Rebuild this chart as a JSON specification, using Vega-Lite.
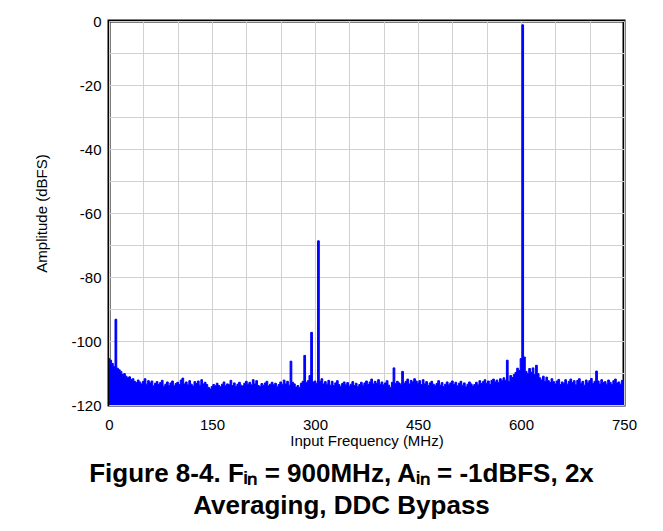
{
"$schema": "https://vega.github.io/schema/vega-lite/v6.json",
"width": 515, "height": 384,
"autosize": {"type": "none"},
"padding": {"left": 109, "top": 21, "right": 39, "bottom": 126},
"background": "white",
"config": {"view": {"stroke": "black", "strokeWidth": 3}, "font": "Liberation Sans"},
"title": {"text": ["Figure 8-4. Fᵢₙ = 900MHz, Aᵢₙ = -1dBFS, 2x", "Averaging, DDC Bypass"], "orient": "bottom", "anchor": "middle", "dx": -25, "fontSize": 26, "fontWeight": "bold", "font": "Liberation Sans", "color": "black", "lineHeight": 32, "offset": 13},
"data": {"values": [
{"f":0,"a":-105.5},{"f":2.5,"a":-106},{"f":5,"a":-107},{"f":7.5,"a":-108},{"f":10,"a":-93.2},{"f":12.5,"a":-108.5},{"f":15,"a":-109},{"f":17.5,"a":-109.5},{"f":20,"a":-110.5},{"f":22.5,"a":-110.2},
{"f":25,"a":-111},{"f":27.5,"a":-111.5},{"f":30,"a":-111.2},{"f":32.5,"a":-112},{"f":35,"a":-111.8},{"f":37.5,"a":-112.6},{"f":40,"a":-113},{"f":42.5,"a":-112.2},{"f":45,"a":-112.8},{"f":47.5,"a":-113.4},
{"f":50,"a":-112.6},{"f":52.5,"a":-111.8},{"f":55,"a":-113.5},{"f":57.5,"a":-112.4},{"f":60,"a":-113.1},{"f":62.5,"a":-112.5},{"f":65,"a":-114},{"f":67.5,"a":-113.2},{"f":70,"a":-112.7},{"f":72.5,"a":-113.6},
{"f":75,"a":-113},{"f":77.5,"a":-112.3},{"f":80,"a":-114.2},{"f":82.5,"a":-113.5},{"f":85,"a":-112.8},{"f":87.5,"a":-113.9},{"f":90,"a":-113.1},{"f":92.5,"a":-112.5},{"f":95,"a":-114},{"f":97.5,"a":-113.3},
{"f":100,"a":-112.9},{"f":102.5,"a":-113.6},{"f":105,"a":-112.2},{"f":107.5,"a":-111.6},{"f":110,"a":-113.4},{"f":112.5,"a":-112.8},{"f":115,"a":-113.7},{"f":117.5,"a":-112.4},{"f":120,"a":-113.5},{"f":122.5,"a":-114.1},
{"f":125,"a":-112.7},{"f":127.5,"a":-113.3},{"f":130,"a":-112.5},{"f":132.5,"a":-113.8},{"f":135,"a":-112.1},{"f":137.5,"a":-113.4},{"f":140,"a":-112.9},{"f":142.5,"a":-113.6},{"f":145,"a":-114.5},{"f":147.5,"a":-115},
{"f":150,"a":-114.2},{"f":152.5,"a":-113.6},{"f":155,"a":-114},{"f":157.5,"a":-113.2},{"f":160,"a":-113.9},{"f":162.5,"a":-114.3},{"f":165,"a":-113.5},{"f":167.5,"a":-112.8},{"f":170,"a":-114},{"f":172.5,"a":-113.4},
{"f":175,"a":-113.7},{"f":177.5,"a":-112.3},{"f":180,"a":-113.9},{"f":182.5,"a":-113.1},{"f":185,"a":-114.2},{"f":187.5,"a":-113.5},{"f":190,"a":-112.9},{"f":192.5,"a":-113.8},{"f":195,"a":-114.1},{"f":197.5,"a":-113.2},
{"f":200,"a":-112.6},{"f":202.5,"a":-113.5},{"f":205,"a":-112.9},{"f":207.5,"a":-113.7},{"f":210,"a":-112.1},{"f":212.5,"a":-113.4},{"f":215,"a":-112.4},{"f":217.5,"a":-113.9},{"f":220,"a":-114.2},{"f":222.5,"a":-113.3},
{"f":225,"a":-113.8},{"f":227.5,"a":-113.1},{"f":230,"a":-112.6},{"f":232.5,"a":-114},{"f":235,"a":-113.5},{"f":237.5,"a":-112.9},{"f":240,"a":-113.7},{"f":242.5,"a":-113.2},{"f":245,"a":-114.3},{"f":247.5,"a":-113.6},
{"f":250,"a":-112.8},{"f":252.5,"a":-113.5},{"f":255,"a":-112.2},{"f":257.5,"a":-113.4},{"f":260,"a":-112.6},{"f":262.5,"a":-113.8},{"f":265,"a":-106.3},{"f":267.5,"a":-112.9},{"f":270,"a":-113.4},{"f":272.5,"a":-114.4},
{"f":275,"a":-113.9},{"f":277.5,"a":-114.5},{"f":280,"a":-113.2},{"f":282.5,"a":-112.6},{"f":285,"a":-104.5},{"f":287.5,"a":-113},{"f":290,"a":-112.4},{"f":292.5,"a":-110.8},{"f":295,"a":-97.3},{"f":297.5,"a":-112.8},
{"f":300,"a":-112.5},{"f":302.5,"a":-113.2},{"f":305,"a":-68.7},{"f":307.5,"a":-112.6},{"f":310,"a":-111.8},{"f":312.5,"a":-113.4},{"f":315,"a":-112.7},{"f":317.5,"a":-113.5},{"f":320,"a":-112.3},{"f":322.5,"a":-113.8},
{"f":325,"a":-112.6},{"f":327.5,"a":-113.9},{"f":330,"a":-113.1},{"f":332.5,"a":-112.4},{"f":335,"a":-113.6},{"f":337.5,"a":-114.2},{"f":340,"a":-113.3},{"f":342.5,"a":-112.8},{"f":345,"a":-113.7},{"f":347.5,"a":-113},
{"f":350,"a":-114.1},{"f":352.5,"a":-113.5},{"f":355,"a":-112.7},{"f":357.5,"a":-113.9},{"f":360,"a":-113.2},{"f":362.5,"a":-114.3},{"f":365,"a":-113.6},{"f":367.5,"a":-112.9},{"f":370,"a":-113.8},{"f":372.5,"a":-113.1},
{"f":375,"a":-112.5},{"f":377.5,"a":-113.6},{"f":380,"a":-112.8},{"f":382.5,"a":-111.9},{"f":385,"a":-113.4},{"f":387.5,"a":-112.6},{"f":390,"a":-113.2},{"f":392.5,"a":-112.1},{"f":395,"a":-113.5},{"f":397.5,"a":-112.8},
{"f":400,"a":-113.7},{"f":402.5,"a":-113.1},{"f":405,"a":-112.4},{"f":407.5,"a":-113.8},{"f":410,"a":-114.5},{"f":412.5,"a":-112.9},{"f":415,"a":-108.4},{"f":417.5,"a":-113.3},{"f":420,"a":-112.6},{"f":422.5,"a":-113.1},
{"f":425,"a":-113.5},{"f":427.5,"a":-109.5},{"f":430,"a":-113.2},{"f":432.5,"a":-112.6},{"f":435,"a":-111.9},{"f":437.5,"a":-113.4},{"f":440,"a":-112.3},{"f":442.5,"a":-112.8},{"f":445,"a":-111.8},{"f":447.5,"a":-112.5},
{"f":450,"a":-113.2},{"f":452.5,"a":-112.4},{"f":455,"a":-113.6},{"f":457.5,"a":-112.1},{"f":460,"a":-113.4},{"f":462.5,"a":-112.7},{"f":465,"a":-113.9},{"f":467.5,"a":-113.1},{"f":470,"a":-112.6},{"f":472.5,"a":-113.5},
{"f":475,"a":-114},{"f":477.5,"a":-113.3},{"f":480,"a":-112.4},{"f":482.5,"a":-113.8},{"f":485,"a":-113},{"f":487.5,"a":-114.2},{"f":490,"a":-113.5},{"f":492.5,"a":-112.8},{"f":495,"a":-113.7},{"f":497.5,"a":-113.1},
{"f":500,"a":-112.5},{"f":502.5,"a":-113.6},{"f":505,"a":-112.9},{"f":507.5,"a":-114},{"f":510,"a":-113.2},{"f":512.5,"a":-112.6},{"f":515,"a":-113.8},{"f":517.5,"a":-113.1},{"f":520,"a":-114.3},{"f":522.5,"a":-113.5},
{"f":525,"a":-112.8},{"f":527.5,"a":-113.4},{"f":530,"a":-114.1},{"f":532.5,"a":-113.6},{"f":535,"a":-112.9},{"f":537.5,"a":-113.7},{"f":540,"a":-112.4},{"f":542.5,"a":-113.3},{"f":545,"a":-112.7},{"f":547.5,"a":-112.1},
{"f":550,"a":-113.2},{"f":552.5,"a":-112.5},{"f":555,"a":-113.6},{"f":557.5,"a":-112.3},{"f":560,"a":-111.9},{"f":562.5,"a":-112.8},{"f":565,"a":-112.2},{"f":567.5,"a":-113},{"f":570,"a":-111.8},{"f":572.5,"a":-112.4},
{"f":575,"a":-111.5},{"f":577.5,"a":-112.3},{"f":580,"a":-106},{"f":582.5,"a":-112.6},{"f":585,"a":-110.8},{"f":587.5,"a":-111.4},{"f":590,"a":-110.5},{"f":592.5,"a":-109.8},{"f":595,"a":-108.5},{"f":597.5,"a":-109.2},
{"f":600,"a":-105.5},{"f":602.5,"a":-1.2},{"f":605,"a":-105},{"f":607.5,"a":-109.5},{"f":610,"a":-110.2},{"f":612.5,"a":-108.6},{"f":615,"a":-109.8},{"f":617.5,"a":-108.4},{"f":620,"a":-110.5},{"f":622.5,"a":-107.6},
{"f":625,"a":-110.2},{"f":627.5,"a":-111.5},{"f":630,"a":-112.2},{"f":632.5,"a":-111},{"f":635,"a":-112.6},{"f":637.5,"a":-111.3},{"f":640,"a":-112.4},{"f":642.5,"a":-113},{"f":645,"a":-111.8},{"f":647.5,"a":-112.7},
{"f":650,"a":-113.4},{"f":652.5,"a":-112.5},{"f":655,"a":-112},{"f":657.5,"a":-113.6},{"f":660,"a":-112.8},{"f":662.5,"a":-113.2},{"f":665,"a":-112.1},{"f":667.5,"a":-113.5},{"f":670,"a":-112.6},{"f":672.5,"a":-111.9},
{"f":675,"a":-113},{"f":677.5,"a":-112.4},{"f":680,"a":-113.7},{"f":682.5,"a":-112.3},{"f":685,"a":-111.8},{"f":687.5,"a":-113.2},{"f":690,"a":-112.6},{"f":692.5,"a":-113.8},{"f":695,"a":-112.2},{"f":697.5,"a":-113.1},
{"f":700,"a":-112.4},{"f":702.5,"a":-111.7},{"f":705,"a":-113.3},{"f":707.5,"a":-112.6},{"f":710,"a":-109.4},{"f":712.5,"a":-112.5},{"f":715,"a":-113.4},{"f":717.5,"a":-112.1},{"f":720,"a":-113},{"f":722.5,"a":-112.7},
{"f":725,"a":-113.5},{"f":727.5,"a":-112.2},{"f":730,"a":-112.9},{"f":732.5,"a":-113.6},{"f":735,"a":-112.4},{"f":737.5,"a":-111.9},{"f":740,"a":-113.1},{"f":742.5,"a":-112.8},{"f":745,"a":-113.5},{"f":747.5,"a":-112.3},{"f":750,"a":-113.6}
]},
"mark": {"type": "area", "interpolate": "step", "color": "#0000ff", "opacity": 1, "clip": true, "line": {"color": "#0000ff", "strokeWidth": 1}},
"encoding": {
"x": {"field": "f", "type": "quantitative", "scale": {"domain": [0, 750], "nice": false, "zero": false},
 "axis": {"values": [0,50,100,150,200,250,300,350,400,450,500,550,600,650,700,750], "labelExpr": "datum.value % 150 === 0 ? '' + datum.value : ''", "ticks": false, "domain": false, "grid": true, "gridColor": "#d0d0d0", "gridWidth": 1, "labelFontSize": 15, "labelColor": "black", "labelPadding": 12, "labelFlush": false, "labelOverlap": false, "title": "Input Frequency (MHz)", "titleFontSize": 15, "titleFontWeight": "normal", "titleColor": "black", "titlePadding": 1}},
"y": {"field": "a", "type": "quantitative", "scale": {"domain": [-120, 0], "nice": false},
 "axis": {"values": [-120,-110,-100,-90,-80,-70,-60,-50,-40,-30,-20,-10,0], "labelExpr": "datum.value % 20 === 0 ? '' + datum.value : ''", "ticks": false, "domain": false, "grid": true, "gridColor": "#d0d0d0", "gridWidth": 1, "labelFontSize": 15, "labelColor": "black", "labelPadding": 8, "labelOverlap": false, "title": "Amplitude (dBFS)", "titleFontSize": 15, "titleFontWeight": "normal", "titleColor": "black", "titlePadding": 21}},
"y2": {"datum": -120}
}
}
